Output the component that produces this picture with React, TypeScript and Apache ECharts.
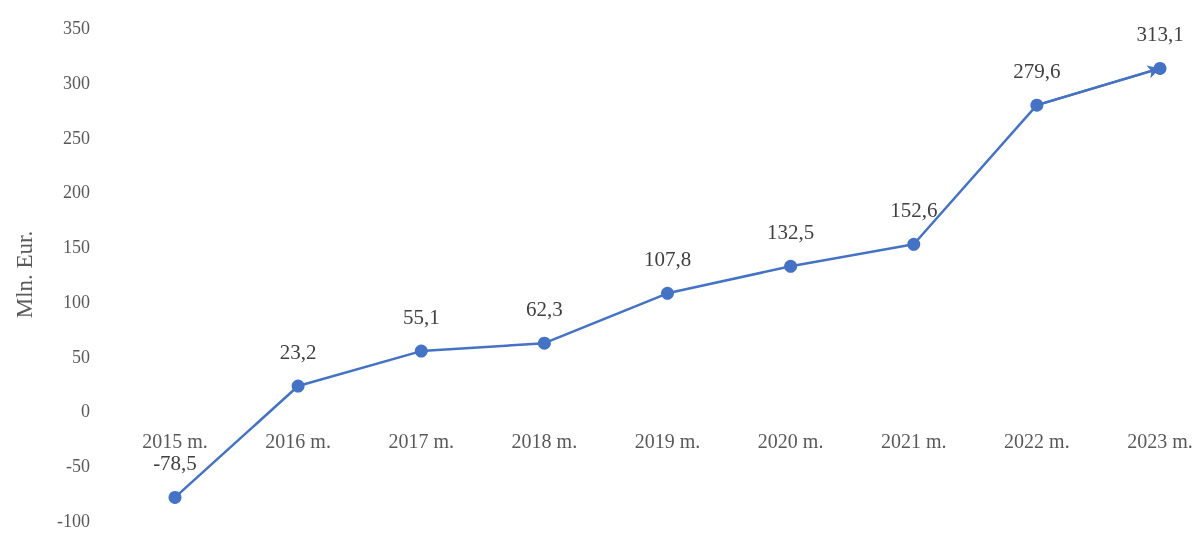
import React, { useEffect, useRef } from "react";
import * as echarts from "echarts";

const categories = ["2015 m.", "2016 m.", "2017 m.", "2018 m.", "2019 m.", "2020 m.", "2021 m.", "2022 m.", "2023 m."];
const values = [-78.5, 23.2, 55.1, 62.3, 107.8, 132.5, 152.6, 279.6, 313.1];
const yTicks = { min: -100, max: 350, interval: 50 };

const FONT = "'Liberation Serif', 'Times New Roman', serif";
const GRAY = "#595959";
const BLUE = "#4472C4";

const HEIGHT = 533;
const GRID_BOTTOM = 12;

export default function App() {
  const ref = useRef<HTMLDivElement>(null);
  useEffect(() => {
    if (!ref.current) return;
    const chart = echarts.init(ref.current, null, { renderer: "svg" });
    const n = values.length;
    chart.setOption({
      animation: false,
      grid: { left: 175, right: 39, top: 28, bottom: GRID_BOTTOM, containLabel: false, outerBoundsMode: "none" },
      xAxis: {
        type: "category",
        data: categories,
        boundaryGap: false,
        axisLine: { show: false, onZero: false },
        axisTick: { show: false },
        axisLabel: { color: GRAY, fontFamily: FONT, fontSize: 20, margin: 20 },
        splitLine: { show: false },
      },
      yAxis: {
        type: "value",
        min: yTicks.min,
        max: yTicks.max,
        interval: yTicks.interval,
        offset: 75,
        name: "Mln. Eur.",
        nameLocation: "middle",
        nameGap: 64,
        nameTextStyle: { color: GRAY, fontFamily: FONT, fontSize: 23 },
        axisLine: { show: false },
        axisTick: { show: false },
        axisLabel: { color: GRAY, fontFamily: FONT, fontSize: 18, margin: 10 },
        splitLine: { show: false },
      },
      series: [
        {
          type: "line",
          data: values,
          symbol: "circle",
          symbolSize: 13,
          lineStyle: { color: BLUE, width: 2.5 },
          itemStyle: { color: BLUE },
          label: {
            show: true,
            position: "top",
            distance: 17,
            color: "#404040",
            fontFamily: FONT,
            fontSize: 21,
            formatter: (p: any) => String(p.value).replace(".", ","),
          },
          markLine: {
            silent: true,
            symbol: ["none", "arrow"],
            symbolSize: [10, 12],
            label: { show: false },
            lineStyle: { color: BLUE, width: 2.5, type: "solid" },
            data: [[{ coord: [n - 2, values[n - 2]] }, { coord: [n - 1, values[n - 1]] }]],
          },
        },
      ],
    });
    const zeroY = chart.convertToPixel({ yAxisIndex: 0 }, 0) as number;
    const bottomY = HEIGHT - GRID_BOTTOM;
    chart.setOption({ xAxis: { offset: zeroY - bottomY } });
    return () => chart.dispose();
  }, []);
  return <div ref={ref} style={{ position: "fixed", left: 0, top: 0, width: 1199, height: HEIGHT }} />;
}
